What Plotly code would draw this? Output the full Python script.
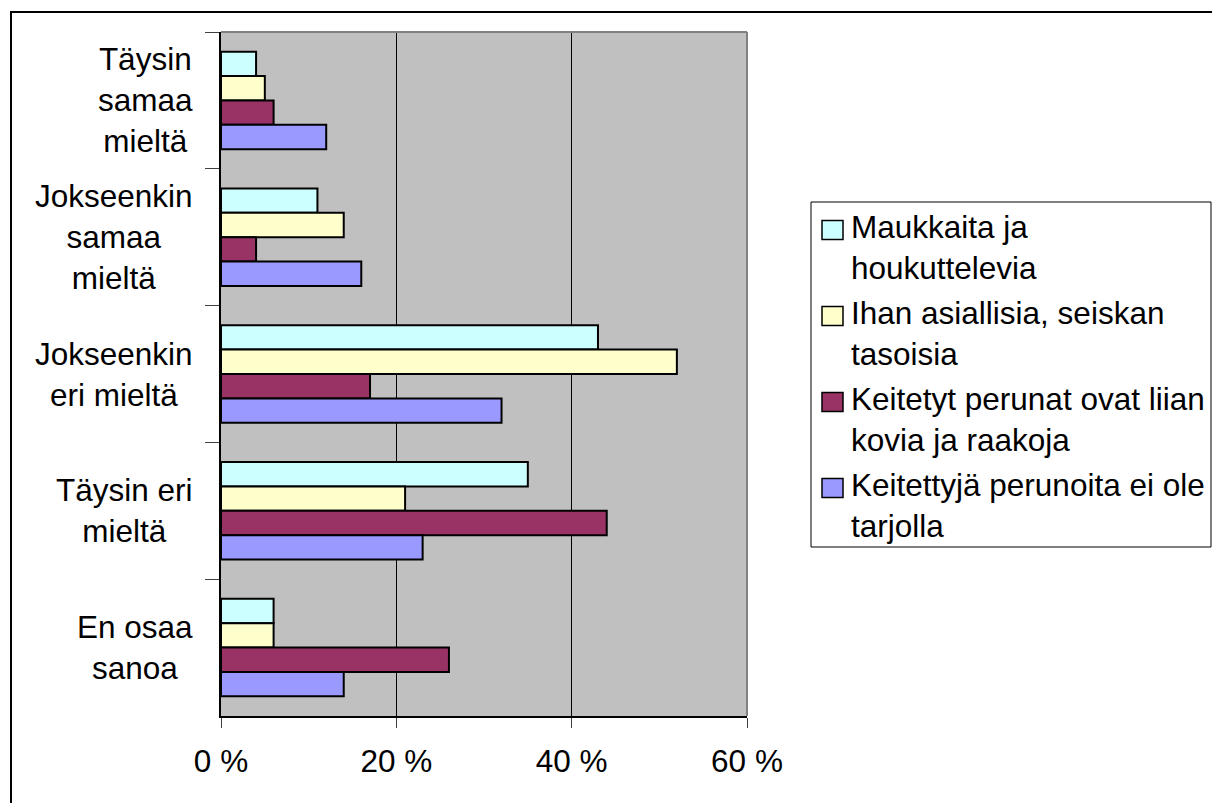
import plotly.graph_objects as go

# Survey answers (categories top to bottom) and share of respondents (%)
categories = [
    "Täysin samaa mieltä",
    "Jokseenkin samaa mieltä",
    "Jokseenkin eri mieltä",
    "Täysin eri mieltä",
    "En osaa sanoa",
]
category_labels = [
    "Täysin<br>samaa<br>mieltä",
    "Jokseenkin<br>samaa<br>mieltä",
    "Jokseenkin<br>eri mieltä",
    "Täysin eri<br>mieltä",
    "En osaa<br>sanoa",
]

series_names = [
    "Maukkaita ja houkuttelevia",
    "Ihan asiallisia, seiskan tasoisia",
    "Keitetyt perunat ovat liian kovia ja raakoja",
    "Keitettyjä perunoita ei ole tarjolla",
]
series_labels = [
    "Maukkaita ja<br>houkuttelevia",
    "Ihan asiallisia, seiskan<br>tasoisia",
    "Keitetyt perunat ovat liian<br>kovia ja raakoja",
    "Keitettyjä perunoita ei ole<br>tarjolla",
]
maukkaita = [4, 11, 43, 35, 6]
asiallisia = [5, 14, 52, 21, 6]
liian_kovia = [6, 4, 17, 44, 26]
ei_tarjolla = [12, 16, 32, 23, 14]
series_values = [maukkaita, asiallisia, liian_kovia, ei_tarjolla]

x_ticks = [0, 20, 40, 60]
x_tick_labels = ["0 %", "20 %", "40 %", "60 %"]

colors = ["#CCFFFF", "#FFFFCC", "#993366", "#9999FF"]

FONT = "Liberation Sans, Arial, sans-serif"
FS = 31.5
W, H = 1212, 803
L, R, T, B = 221, 465, 32, 87
PW, PH = W - L - R, H - T - B


def fx(px):
    return (px - L) / PW


def fy(py):
    return (H - B - py) / PH


fig = go.Figure()
for name, vals, col in zip(series_names, series_values, colors):
    fig.add_trace(go.Bar(
        y=categories, x=vals, name=name, orientation="h",
        marker=dict(color=col, line=dict(color="black", width=2)),
        showlegend=False,
    ))

shapes = [
    # outer chart frame
    dict(type="rect", xref="paper", yref="paper",
         x0=fx(11), x1=fx(1400), y0=fy(12), y1=fy(1000),
         line=dict(color="black", width=2)),
    # plot area top and right edges
    dict(type="line", xref="paper", yref="paper", x0=0, x1=1, y0=1, y1=1,
         line=dict(color="#808080", width=2)),
    dict(type="line", xref="paper", yref="paper", x0=1, x1=1, y0=0, y1=1,
         line=dict(color="#808080", width=2)),
    # legend box
    dict(type="rect", xref="paper", yref="paper",
         x0=fx(811), x1=fx(1211), y0=fy(202), y1=fy(547),
         line=dict(color="black", width=1), fillcolor="white", layer="below"),
]

annotations = []
for cat, lab in zip(categories, category_labels):
    annotations.append(dict(
        xref="paper", yref="y", x=fx(195), y=cat, text=lab,
        xanchor="right", yanchor="middle", align="center", showarrow=False,
        font=dict(family=FONT, size=FS, color="black"),
    ))

for i, (lab, col) in enumerate(zip(series_labels, colors)):
    cy = 230 + 86 * i
    shapes.append(dict(
        type="rect", xref="paper", yref="paper",
        x0=fx(822), x1=fx(843), y0=fy(cy - 9.5), y1=fy(cy + 9.5),
        fillcolor=col, line=dict(color="black", width=1.5),
    ))
    annotations.append(dict(
        xref="paper", yref="paper", x=fx(849), y=fy(cy + 17), text=lab,
        xanchor="left", yanchor="middle", align="left", showarrow=False,
        font=dict(family=FONT, size=FS, color="black"),
    ))

fig.update_layout(
    width=W, height=H,
    margin=dict(l=L, r=R, t=T, b=B, pad=0),
    paper_bgcolor="white", plot_bgcolor="#C0C0C0",
    barmode="group", bargap=0.287, bargroupgap=0,
    font=dict(family=FONT, size=FS, color="black"),
    shapes=shapes, annotations=annotations,
    showlegend=False,
)
fig.update_xaxes(
    range=[0, 60], tickvals=x_ticks, ticktext=x_tick_labels,
    ticks="outside", ticklen=10, tickcolor="#404040", tickwidth=1,
    showgrid=True, gridcolor="black", gridwidth=1,
    showline=True, linecolor="black", linewidth=1.5, zeroline=False,
    tickfont=dict(family=FONT, size=FS, color="black"),
    ticklabelstandoff=6,
)
fig.update_yaxes(
    type="category", categoryorder="array", categoryarray=categories,
    autorange="reversed", showticklabels=False,
    tickson="boundaries", ticks="outside", ticklen=14,
    tickcolor="#404040", tickwidth=1,
    showgrid=False, showline=True, linecolor="black", linewidth=1.5,
    zeroline=False,
)

fig.write_html("out.html")
